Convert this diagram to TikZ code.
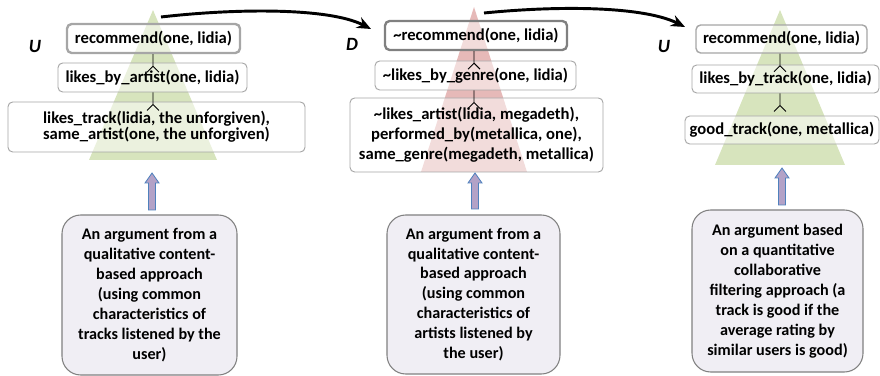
\documentclass[tikz,border=0pt]{standalone}
\usepackage{fontspec}
\setmainfont{Carlito}
\usepackage{tikz}
\usetikzlibrary{arrows.meta}
\definecolor{undercutc}{HTML}{D7E4BD}
\definecolor{defeatc}{HTML}{E6B9B8}
\definecolor{approachc}{HTML}{F0EEF4}
\definecolor{claimc}{HTML}{A6A6A6}
\definecolor{upfillc}{HTML}{B3A2C7}
\definecolor{updrawc}{HTML}{4F81BD}
\tikzset{
  claim/.style={draw=claimc, line width=0.8pt, rounded corners=4pt, fill=white, fill opacity=0.5, text opacity=1, inner sep=0pt, align=center, font=\fontsize{14.2}{15}\selectfont\bfseries},
  topclaim/.style={claim, line width=2pt},
  approach/.style={draw=gray, line width=0.9pt, rounded corners=16pt, fill=approachc, inner sep=0pt, align=center, font=\fontsize{13.8}{17}\selectfont\bfseries},
  support/.style={line width=0.8pt},
  uparrow/.style={draw=updrawc, fill=upfillc, line width=0.7pt, line join=miter},
  attack/.style={line width=2.5pt, -{Stealth[length=12pt,width=10pt]}},
  side/.style={font=\fontsize{16}{18}\selectfont\bfseries\itshape},
}
\begin{document}
\begin{tikzpicture}[x=0.03cm,y=-0.03cm]
\useasboundingbox (0,0) rectangle (880,376);

% argument 1
\coordinate (t1) at (153,10);
\fill[undercutc] (t1) -- (217,160) -- (89,160) -- cycle;
\node[side] (s1) at (35,46) {U};
\node[topclaim, minimum width=5.19cm, minimum height=0.87cm] (r1) at (153.5,38.5) {recommend(one, lidia)};
\node[claim, minimum width=5.67cm, minimum height=0.87cm] (l1) at (152.5,77.5) {likes\_by\_artist(one, lidia)};
\node[claim, minimum width=8.91cm, minimum height=1.5cm, font=\fontsize{14.2}{13.5}\selectfont\bfseries] (b1) at (156.5,127) {likes\_track(lidia, the unforgiven),\\same\_artist(one, the unforgiven)};
\draw[support] (r1.south -| t1) -- ++(0,12) coordinate (f1) -- ++(-6,6) (f1) -- ++(6,6);
\draw[support] (l1.south -| t1) -- ++(0,12) coordinate (g1) -- ++(-6,6) (g1) -- ++(6,6);
\coordinate (u1) at (152,210);
\draw[uparrow] (u1) ++(-3.5,0) -- ++(0,-27) -- ++(-3.5,0) -- ++(7,-10) -- ++(7,10) -- ++(-3.5,0) -- ++(0,27) -- cycle;
\node[approach, minimum width=5.25cm, minimum height=4.8cm] (a1) at (149.5,295) {An argument from a\\qualitative content-\\based approach\\(using common\\characteristics of\\tracks listened by the\\user)};

% argument 2
\coordinate (t2) at (474,7);
\fill[defeatc] (t2) -- (527,172) -- (421,172) -- cycle;
\node[side] (s2) at (352,44) {D};
\node[topclaim, draw=gray, minimum width=5.46cm, minimum height=0.87cm] (r2) at (476,35.5) {\textasciitilde recommend(one, lidia)};
\node[claim, minimum width=6.03cm, minimum height=0.87cm] (l2) at (475.5,75.5) {\textasciitilde likes\_by\_genre(one, lidia)};
\node[claim, minimum width=7.59cm, minimum height=2.22cm, font=\fontsize{14.2}{17}\selectfont\bfseries] (b2) at (476.5,135) {\textasciitilde likes\_artist(lidia, megadeth),\\performed\_by(metallica, one),\\same\_genre(megadeth, metallica)};
\draw[support] (r2.south -| t2) -- ++(0,12) coordinate (f2) -- ++(-6,6) (f2) -- ++(6,6);
\draw[support] (l2.south -| t2) -- ++(0,12) coordinate (g2) -- ++(-6,6) (g2) -- ++(6,6);
\coordinate (u2) at (475,209);
\draw[uparrow] (u2) ++(-3.5,0) -- ++(0,-26) -- ++(-3.5,0) -- ++(7,-10) -- ++(7,10) -- ++(-3.5,0) -- ++(0,26) -- cycle;
\node[approach, minimum width=5.19cm, minimum height=4.77cm] (a2) at (473.5,294.5) {An argument from a\\qualitative content-\\based approach\\(using common\\characteristics of\\artists listened by\\the user)};

% argument 3
\coordinate (t3) at (780,10);
\fill[undercutc] (t3) -- (845,165) -- (715,165) -- cycle;
\node[side] (s3) at (664,46) {U};
\node[claim, line width=1.2pt, minimum width=5.13cm, minimum height=0.84cm] (r3) at (781.5,39) {recommend(one, lidia)};
\node[claim, minimum width=5.61cm, minimum height=0.84cm] (l3) at (785.5,79) {likes\_by\_track(one, lidia)};
\node[claim, minimum width=5.82cm, minimum height=0.84cm] (b3) at (782,130) {good\_track(one, metallica)};
\draw[support] (r3.south -| t3) -- ++(0,12) coordinate (f3) -- ++(-6,6) (f3) -- ++(6,6);
\draw[support] (l3.south -| t3) -- ++(0,12) coordinate (g3) -- ++(-6,6) (g3) -- ++(6,6);
\coordinate (u3) at (782,205);
\draw[uparrow] (u3) ++(-3.5,0) -- ++(0,-27) -- ++(-3.5,0) -- ++(7,-10) -- ++(7,10) -- ++(-3.5,0) -- ++(0,27) -- cycle;
\node[approach, minimum width=5.13cm, minimum height=4.86cm] (a3) at (777.5,291) {An argument based\\on a quantitative\\collaborative\\filtering approach (a\\track is good if the\\average rating by\\similar users is good)};

% attacks
\coordinate (p1) at (161,17);
\coordinate (q1) at (371,29);
\coordinate (p2) at (484,13);
\coordinate (q2) at (685,27);
\draw[attack] (p1) .. controls (240,8) and (330,8) .. (q1);
\draw[attack] (p2) .. controls (565,5) and (645,7) .. (q2);
\end{tikzpicture}
\end{document}
